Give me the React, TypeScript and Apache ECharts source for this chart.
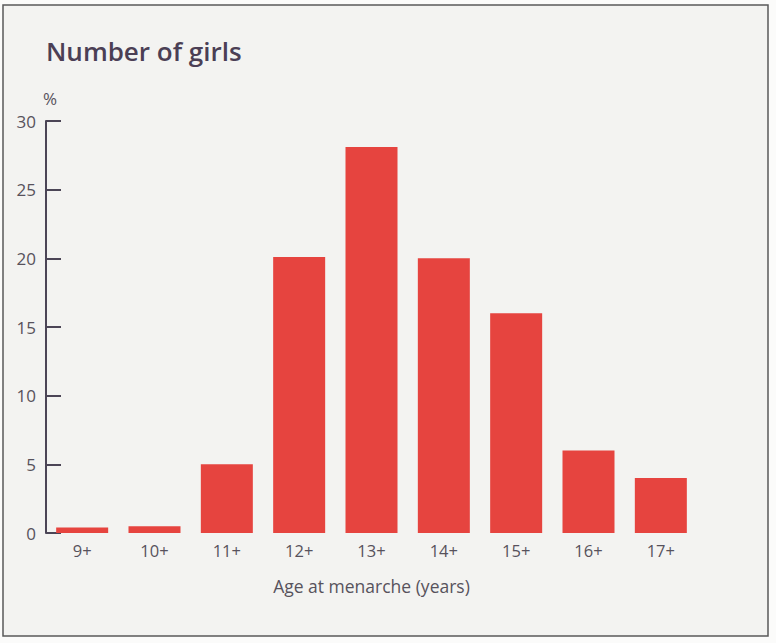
import React, { useEffect, useRef } from "react";
import * as echarts from "echarts";

const categories = ["9+", "10+", "11+", "12+", "13+", "14+", "15+", "16+", "17+"];
const percentGirls = [0.4, 0.5, 5.0, 20.1, 28.1, 20.0, 16.0, 6.0, 4.0];
const yTicks = { min: 0, max: 30, interval: 5 };

const TEXT = "#57525c";
const AXIS = "#4b4556";
const BAR = "#e6443f";

export default function App() {
  const ref = useRef<HTMLDivElement>(null);
  useEffect(() => {
    if (!ref.current) return;
    const chart = echarts.init(ref.current, undefined, { renderer: "svg" });
    chart.setOption({
      animation: false,
      backgroundColor: "#fbfbfa",
      title: {
        text: "Number of girls",
        left: 41,
        top: 33,
        textStyle: {
          fontFamily: "Open Sans",
          fontSize: 26,
          fontWeight: 600,
          color: "#4b3f55",
        },
      },
      graphic: [
        {
          type: "rect",
          z: -10,
          shape: { x: 3, y: 5, width: 765, height: 631 },
          style: { fill: "#f3f3f1", stroke: "#5a5a5a", lineWidth: 1.5 },
        },
      ],
      grid: { left: 46, right: 79, top: 121, bottom: 110, containLabel: false },
      xAxis: {
        type: "category",
        data: categories,
        axisLine: { show: false },
        axisTick: { show: false },
        axisLabel: { fontFamily: "Open Sans", fontSize: 16.5, color: TEXT, margin: 9 },
        name: "Age at menarche (years)",
        nameLocation: "middle",
        nameGap: 44,
        nameTextStyle: { fontFamily: "Open Sans", fontSize: 17.5, color: TEXT },
      },
      yAxis: {
        type: "value",
        min: yTicks.min,
        max: yTicks.max,
        interval: yTicks.interval,
        splitLine: { show: false },
        axisLine: { show: true, lineStyle: { color: AXIS, width: 2 } },
        axisTick: { show: true, inside: true, length: 15, lineStyle: { color: AXIS, width: 2 } },
        axisLabel: { fontFamily: "Open Sans", fontSize: 17, color: TEXT, margin: 10 },
        name: "%",
        nameLocation: "end",
        nameGap: 14,
        nameTextStyle: { fontFamily: "Open Sans", fontSize: 17, color: TEXT, align: "center", padding: [0, 0, 0, 8] },
      },
      series: [
        {
          type: "bar",
          data: percentGirls,
          barWidth: 52,
          itemStyle: { color: BAR },
        },
      ],
    });
    return () => chart.dispose();
  }, []);
  return (
    <div
      ref={ref}
      style={{ position: "fixed", left: 0, top: 0, width: 776, height: 643 }}
    />
  );
}
